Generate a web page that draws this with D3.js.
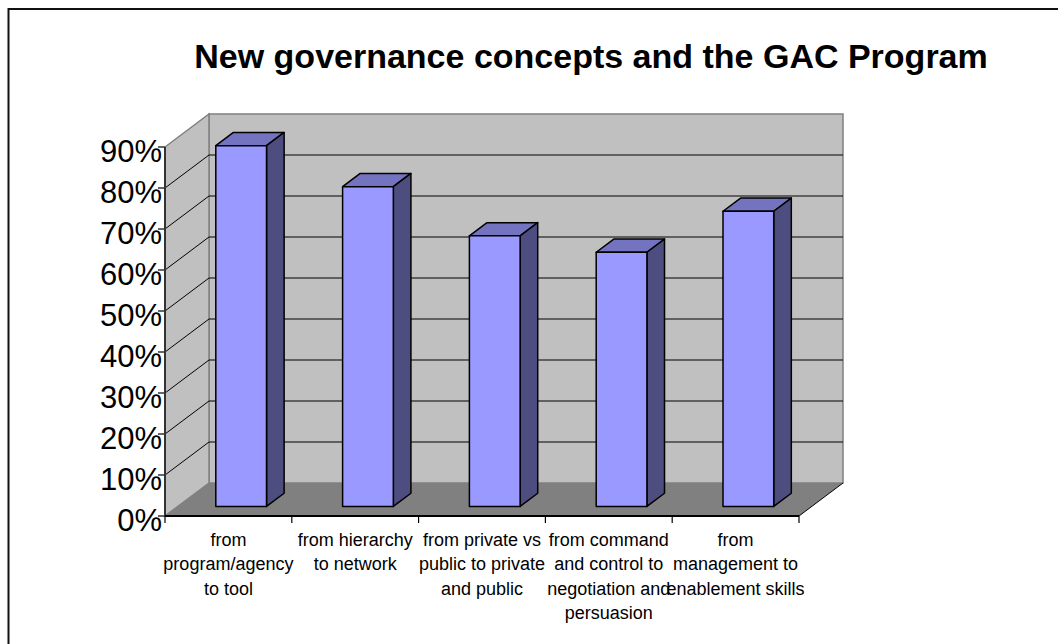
<!DOCTYPE html>
<html>
<head>
<meta charset="utf-8">
<script src="https://cdn.jsdelivr.net/npm/d3@7"></script>
<style>
  html, body { margin: 0; padding: 0; background: #ffffff; }
  svg { display: block; }
  text { font-family: "Liberation Sans", Arial, sans-serif; }
</style>
</head>
<body>
<svg id="chart" width="1058" height="644"></svg>
<script>
// Chart data
const categories = [
  "from program/agency to tool",
  "from hierarchy to network",
  "from private vs public to private and public",
  "from command and control to negotiation and persuasion",
  "from management to enablement skills"
];
// Wrapped axis label lines for each category
const categoryLines = [
  ["from", "program/agency", "to tool"],
  ["from hierarchy", "to network"],
  ["from private vs", "public to private", "and public"],
  ["from command", "and control to", "negotiation and", "persuasion"],
  ["from", "management to", "enablement skills"]
];
const values = [0.88, 0.78, 0.66, 0.62, 0.72];
const yTicks = [0, 0.1, 0.2, 0.3, 0.4, 0.5, 0.6, 0.7, 0.8, 0.9];
const titleText = "New governance concepts and the GAC Program";

// Layout
const svg = d3.select("#chart");
const front = { left: 165, right: 799, bottom: 516, top: 147 };
const DEPTH_X = 44, DEPTH_Y = 33;          // oblique offset of the back wall
const barDepthFront = 0.29, barDepthBack = 0.69;

const y = d3.scaleLinear().domain([0, 0.9]).range([front.bottom, front.top]);
const slot = d3.scaleBand().domain(categories).range([front.left, front.right]).padding(0);
const band = d3.scaleBand().domain(categories).range([front.left, front.right])
  .paddingInner(0.6).paddingOuter(0.3);

// project a front-plane point back by depth fraction d
const P = (x, yy, d) => [x + d * DEPTH_X, yy - d * DEPTH_Y];
const poly = pts => pts.map(p => p.join(",")).join(" ");

// Outer chart border (extends past the window on right/bottom)
svg.append("rect")
  .attr("x", 8.5).attr("y", 9).attr("width", 1100).attr("height", 700)
  .attr("fill", "none").attr("stroke", "#111").attr("stroke-width", 2);

// Title
svg.append("text")
  .attr("x", 591).attr("y", 68)
  .attr("text-anchor", "middle")
  .attr("font-size", 34).attr("font-weight", "bold")
  .attr("fill", "#000")
  .text(titleText);

const y0 = y(0), yMax = y(0.9);

// Back wall
svg.append("polygon")
  .attr("points", poly([P(front.left, yMax, 1), P(front.right, yMax, 1), P(front.right, y0, 1), P(front.left, y0, 1)]))
  .attr("fill", "#c0c0c0").attr("stroke", "#808080").attr("stroke-width", 1.5);

// Side wall
svg.append("polygon")
  .attr("points", poly([[front.left, y0], [front.left, yMax], P(front.left, yMax, 1), P(front.left, y0, 1)]))
  .attr("fill", "#c0c0c0").attr("stroke", "#808080").attr("stroke-width", 1.5);

// Floor
svg.append("polygon")
  .attr("points", poly([[front.left, y0], [front.right, y0], P(front.right, y0, 1), P(front.left, y0, 1)]))
  .attr("fill", "#808080").attr("stroke", "none");
svg.append("line")
  .attr("x1", front.right).attr("y1", y0)
  .attr("x2", P(front.right, y0, 1)[0]).attr("y2", P(front.right, y0, 1)[1])
  .attr("stroke", "#000").attr("stroke-width", 1);

// Gridlines on side and back walls
const gridVals = yTicks.filter(v => v > 0 && v < 0.9);
const grid = svg.append("g").attr("stroke", "#000").attr("stroke-width", 1).attr("fill", "none");
gridVals.forEach(v => {
  const a = [front.left, y(v)], b = P(front.left, y(v), 1), c = P(front.right, y(v), 1);
  grid.append("polyline").attr("points", poly([a, b, c]));
});

// Bars (front, top, side faces)
const bars = svg.append("g").attr("stroke", "#000").attr("stroke-width", 1.5).attr("stroke-linejoin", "round");
categories.forEach((c, i) => {
  const x0 = band(c), x1 = band(c) + band.bandwidth();
  const yt = y(values[i]);
  const f = d => [P(x0, yt, d), P(x1, yt, d), P(x1, y0, d), P(x0, y0, d)];
  const F = f(barDepthFront), B = f(barDepthBack);
  // top face
  bars.append("polygon").attr("points", poly([F[0], F[1], B[1], B[0]])).attr("fill", "#7373bf");
  // right side face
  bars.append("polygon").attr("points", poly([F[1], B[1], B[2], F[2]])).attr("fill", "#4d4d80");
  // front face
  bars.append("polygon").attr("points", poly(F)).attr("fill", "#9999ff");
});

// Y axis
const axisColor = "#333";
svg.append("line")
  .attr("x1", front.left).attr("y1", y0).attr("x2", front.left).attr("y2", yMax)
  .attr("stroke", axisColor).attr("stroke-width", 2);
const yAxis = svg.append("g");
yTicks.forEach(v => {
  yAxis.append("line")
    .attr("x1", front.left - 7).attr("x2", front.left).attr("y1", y(v)).attr("y2", y(v))
    .attr("stroke", axisColor).attr("stroke-width", 1.5);
  yAxis.append("text")
    .attr("x", front.left - 3).attr("y", y(v) + 15)
    .attr("text-anchor", "end").attr("font-size", 31).attr("fill", "#000")
    .text(d3.format(".0%")(v));
});

// X axis
svg.append("line")
  .attr("x1", front.left).attr("y1", y0).attr("x2", front.right).attr("y2", y0)
  .attr("stroke", "#000").attr("stroke-width", 2);
const xTickPos = categories.map(c => slot(c)).concat([front.right]);
xTickPos.forEach(x => {
  svg.append("line")
    .attr("x1", x).attr("x2", x).attr("y1", y0).attr("y2", y0 + 7)
    .attr("stroke", "#000").attr("stroke-width", 1.2);
});
const xLabels = svg.append("g").attr("font-size", 18).attr("fill", "#000").attr("text-anchor", "middle");
categories.forEach((c, i) => {
  const cx = slot(c) + slot.bandwidth() / 2;
  const t = xLabels.append("text").attr("x", cx).attr("y", 546);
  categoryLines[i].forEach((line, k) => {
    t.append("tspan").attr("x", cx).attr("y", 546 + k * 24.4).text(line);
  });
});
</script>
</body>
</html>
